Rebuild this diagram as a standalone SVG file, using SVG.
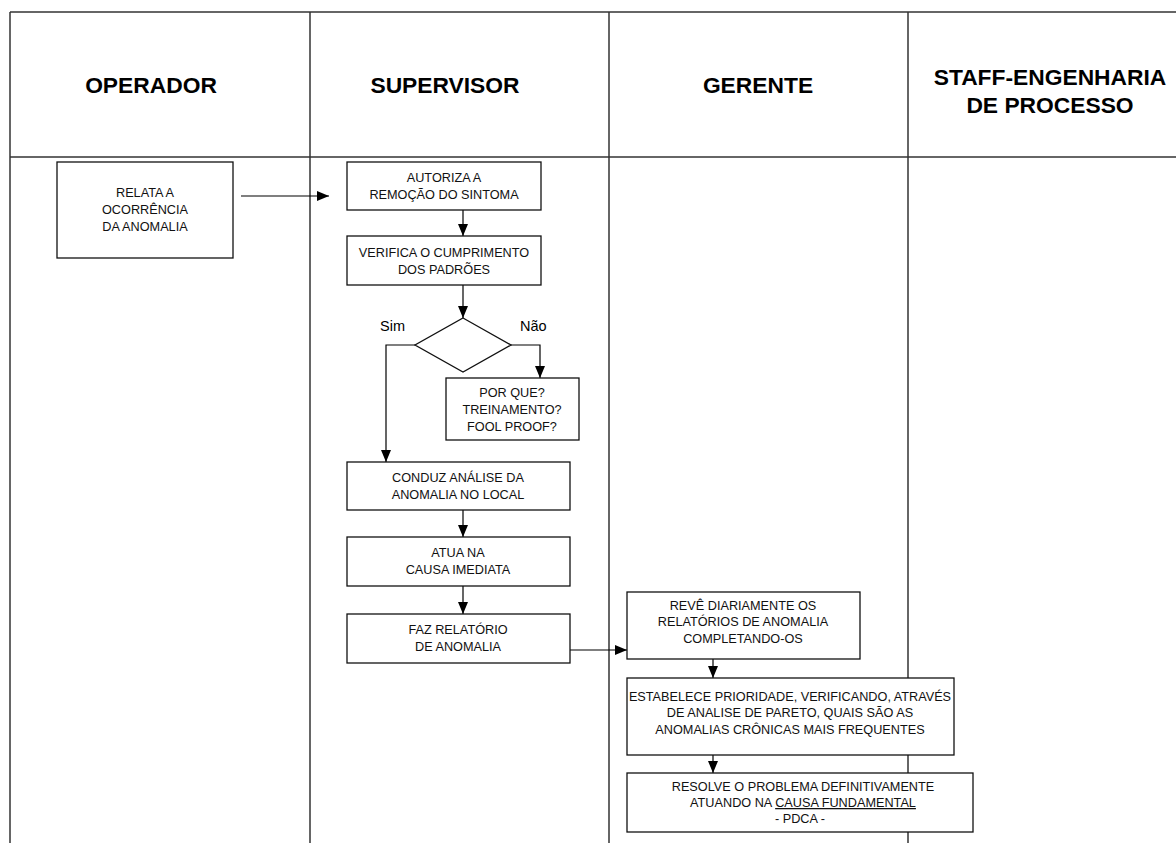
<svg xmlns="http://www.w3.org/2000/svg" width="1176" height="843" viewBox="0 0 1176 843">
  <style>
    .lane { stroke: #333; stroke-width: 1.5; fill: none; }
    .box { fill: #fff; stroke: #111; stroke-width: 1.3; }
    .conn { stroke: #000; stroke-width: 1.2; fill: none; }
    .hdr { font-family: "Liberation Sans", Arial, sans-serif; font-weight: bold; font-size: 22.8px; fill: #000; text-anchor: middle; }
    .txt { font-family: "Liberation Sans", Arial, sans-serif; font-size: 12.7px; fill: #111; text-anchor: middle; }
    .lbl { font-family: "Liberation Sans", Arial, sans-serif; font-size: 14.5px; fill: #000; }
  </style>
  <defs>
    <marker id="arrow" markerUnits="userSpaceOnUse" markerWidth="12" markerHeight="12" viewBox="0 0 12 12" refX="12" refY="6" orient="auto">
      <path d="M0,1 L12,6 L0,11 Z" fill="#000"/>
    </marker>
  </defs>
  <rect width="1176" height="843" fill="#fff"/>

  <!-- swimlane grid -->
  <g id="lanes">
    <line class="lane" x1="10" y1="12" x2="1176" y2="12"/>
    <line class="lane" x1="10" y1="157" x2="1176" y2="157"/>
    <line class="lane" x1="10" y1="12" x2="10" y2="843"/>
    <line class="lane" x1="310" y1="12" x2="310" y2="843"/>
    <line class="lane" x1="609" y1="12" x2="609" y2="843"/>
    <line class="lane" x1="908" y1="12" x2="908" y2="843"/>
    <text class="hdr" x="151" y="93">OPERADOR</text>
    <text class="hdr" x="445" y="93">SUPERVISOR</text>
    <text class="hdr" x="758" y="93">GERENTE</text>
    <text class="hdr" x="1050" y="85">STAFF-ENGENHARIA</text>
    <text class="hdr" x="1050" y="113">DE PROCESSO</text>
  </g>

  <!-- connectors -->
  <g id="connectors">
    <line class="conn" x1="241" y1="196" x2="329" y2="196" marker-end="url(#arrow)"/>
    <line class="conn" x1="463" y1="210" x2="463" y2="236" marker-end="url(#arrow)"/>
    <line class="conn" x1="463" y1="285" x2="463" y2="318" marker-end="url(#arrow)"/>
    <polyline class="conn" points="415,345 386,345 386,462" marker-end="url(#arrow)"/>
    <polyline class="conn" points="511,345 540,345 540,378" marker-end="url(#arrow)"/>
    <line class="conn" x1="463" y1="510" x2="463" y2="537" marker-end="url(#arrow)"/>
    <line class="conn" x1="463" y1="586" x2="463" y2="614" marker-end="url(#arrow)"/>
    <line class="conn" x1="570" y1="650" x2="627" y2="650" marker-end="url(#arrow)"/>
    <line class="conn" x1="713" y1="659" x2="713" y2="678" marker-end="url(#arrow)"/>
    <line class="conn" x1="713" y1="755" x2="713" y2="773" marker-end="url(#arrow)"/>
    <text class="lbl" x="380" y="331">Sim</text>
    <text class="lbl" x="520" y="331">Não</text>
  </g>

  <g id="relata">
    <rect class="box" x="57" y="162" width="176" height="96"/>
    <text class="txt" x="145" y="197">RELATA A</text>
    <text class="txt" x="145" y="214">OCORRÊNCIA</text>
    <text class="txt" x="145" y="231">DA ANOMALIA</text>
  </g>

  <g id="autoriza">
    <rect class="box" x="347" y="162" width="194" height="48"/>
    <text class="txt" x="444" y="182">AUTORIZA A</text>
    <text class="txt" x="444" y="199">REMOÇÃO DO SINTOMA</text>
  </g>

  <g id="verifica">
    <rect class="box" x="347" y="236" width="194" height="49"/>
    <text class="txt" x="444" y="257">VERIFICA O CUMPRIMENTO</text>
    <text class="txt" x="444" y="274">DOS PADRÕES</text>
  </g>

  <g id="decisao">
    <polygon class="box" points="463,318 511,345 463,372 415,345"/>
  </g>

  <g id="porque">
    <rect class="box" x="446" y="378" width="133" height="62"/>
    <text class="txt" x="512" y="397">POR QUE?</text>
    <text class="txt" x="512" y="414">TREINAMENTO?</text>
    <text class="txt" x="512" y="431">FOOL PROOF?</text>
  </g>

  <g id="conduz">
    <rect class="box" x="347" y="462" width="223" height="48"/>
    <text class="txt" x="458" y="482">CONDUZ ANÁLISE DA</text>
    <text class="txt" x="458" y="499">ANOMALIA NO LOCAL</text>
  </g>

  <g id="atua">
    <rect class="box" x="347" y="537" width="223" height="49"/>
    <text class="txt" x="458" y="557">ATUA NA</text>
    <text class="txt" x="458" y="574">CAUSA IMEDIATA</text>
  </g>

  <g id="faz">
    <rect class="box" x="347" y="614" width="223" height="49"/>
    <text class="txt" x="458" y="634">FAZ RELATÓRIO</text>
    <text class="txt" x="458" y="651">DE ANOMALIA</text>
  </g>

  <g id="reve">
    <rect class="box" x="627" y="592" width="233" height="67"/>
    <text class="txt" x="743" y="610">REVÊ DIARIAMENTE OS</text>
    <text class="txt" x="743" y="626">RELATÓRIOS DE ANOMALIA</text>
    <text class="txt" x="743" y="643">COMPLETANDO-OS</text>
  </g>

  <g id="estabelece">
    <rect class="box" x="627" y="678" width="327" height="77"/>
    <text class="txt" x="790" y="701">ESTABELECE PRIORIDADE, VERIFICANDO, ATRAVÉS</text>
    <text class="txt" x="790" y="717">DE ANALISE DE PARETO, QUAIS SÃO AS</text>
    <text class="txt" x="790" y="734">ANOMALIAS CRÔNICAS MAIS FREQUENTES</text>
  </g>

  <g id="resolve">
    <rect class="box" x="627" y="773" width="346" height="59"/>
    <text class="txt" x="803" y="791">RESOLVE O PROBLEMA DEFINITIVAMENTE</text>
    <text class="txt" x="803" y="807">ATUANDO NA <tspan text-decoration="underline">CAUSA FUNDAMENTAL</tspan></text>
    <text class="txt" x="800" y="823">- PDCA -</text>
  </g>
</svg>
